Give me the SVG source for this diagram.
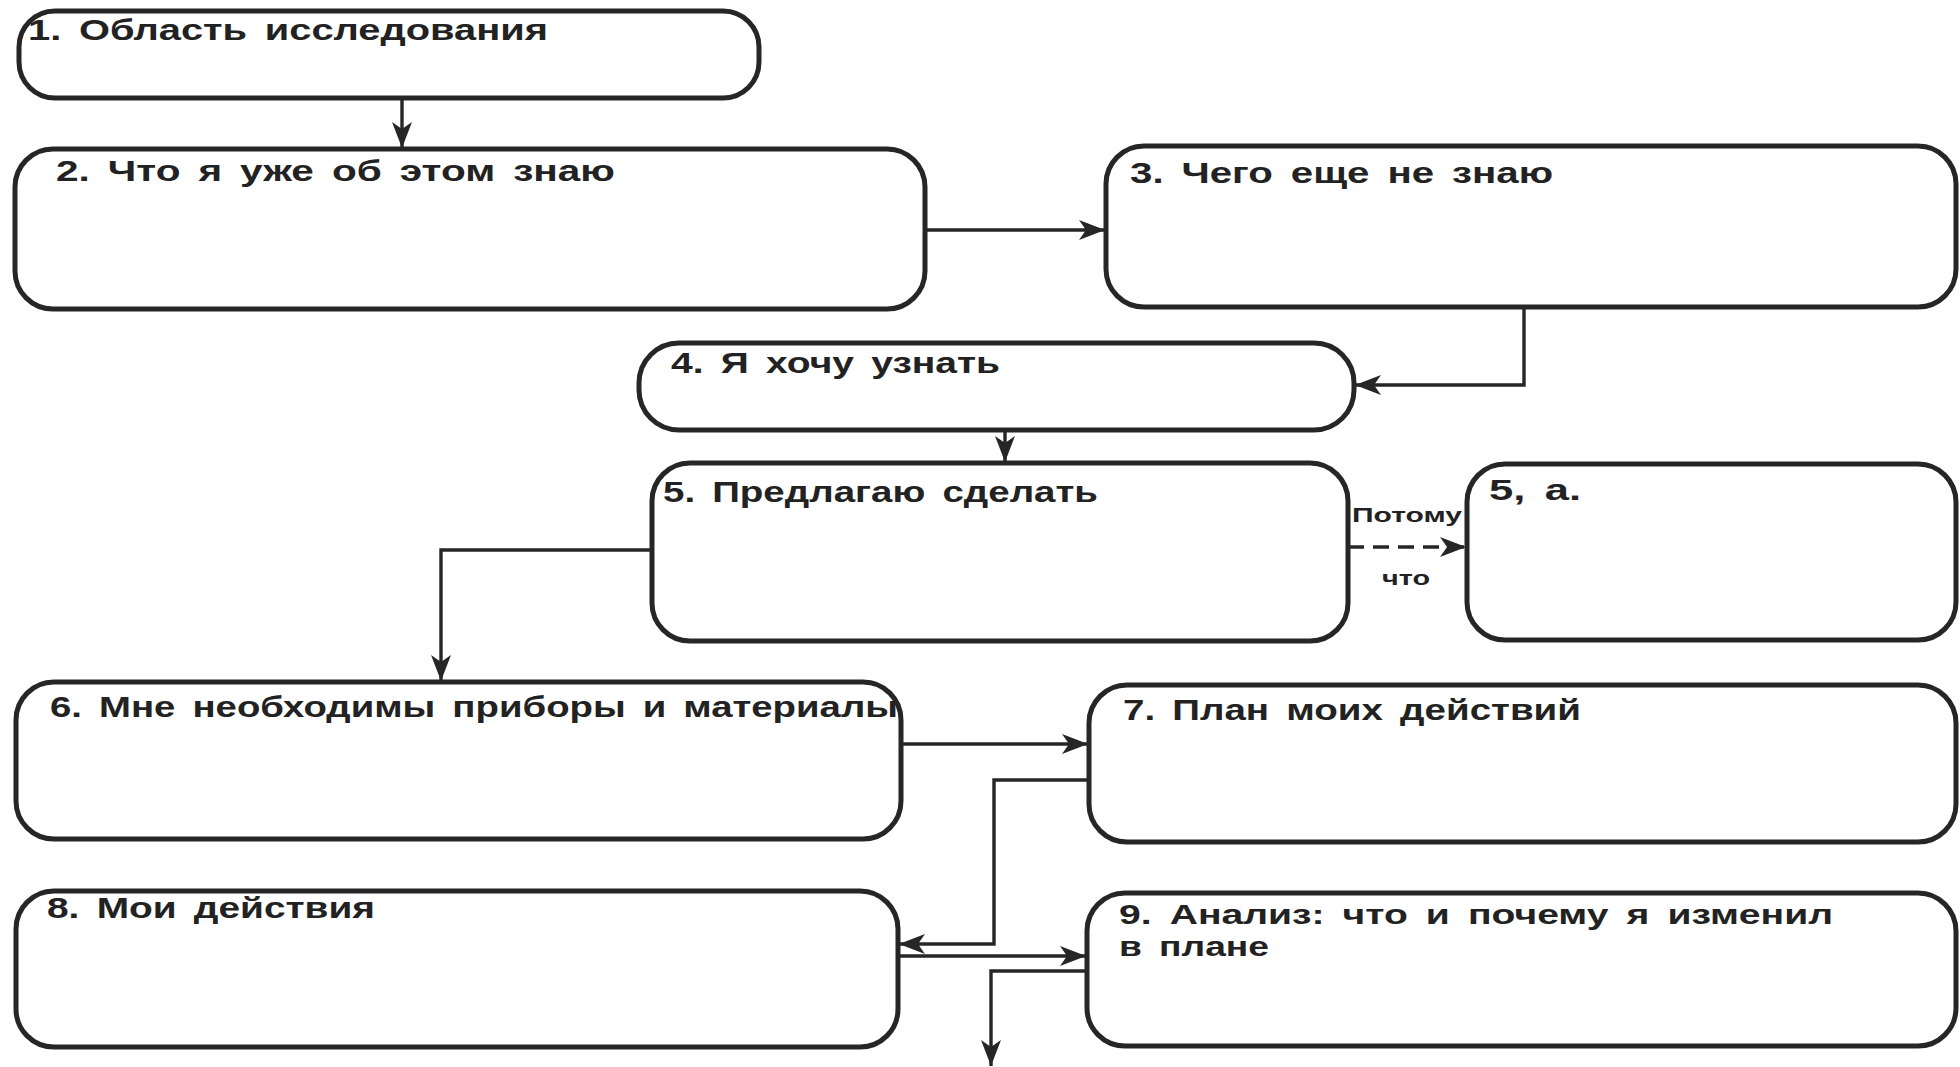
<svg xmlns="http://www.w3.org/2000/svg" width="1960" height="1067" viewBox="0 0 1960 1067">
<style>
.box{fill:#fff;stroke:#262626;stroke-width:5}
.t{font-family:"Liberation Sans",Arial,sans-serif;font-weight:bold;font-size:30px;fill:#222;word-spacing:5px}
.t9{font-size:27px}
.s{font-family:"Liberation Sans",Arial,sans-serif;font-weight:bold;font-size:21px;fill:#222}
.c{fill:none;stroke:#262626;stroke-width:3.4}
.d{stroke-dasharray:16,9}
</style>
<defs>
<marker id="arr" markerUnits="userSpaceOnUse" markerWidth="30" markerHeight="22" refX="26" refY="10" orient="auto">
<path d="M0,0 L26,10 L0,20 L7,10 z" fill="#262626"/>
</marker>
</defs>
<rect width="1960" height="1067" fill="#fff"/>
<g id="connectors">
<path class="c" d="M402,98 L402,148" marker-end="url(#arr)"/>
<path class="c" d="M925,230 L1105,230" marker-end="url(#arr)"/>
<path class="c" d="M1524,307 L1524,385 L1355,385" marker-end="url(#arr)"/>
<path class="c" d="M1005,430 L1005,462" marker-end="url(#arr)"/>
<path class="c d" d="M1348,547 L1466,547" marker-end="url(#arr)"/>
<path class="c" d="M652,550 L441,550 L441,681" marker-end="url(#arr)"/>
<path class="c" d="M901,744 L1088,744" marker-end="url(#arr)"/>
<path class="c" d="M1089,780 L994,780 L994,944 L899,944" marker-end="url(#arr)"/>
<path class="c" d="M898,956 L1086,956" marker-end="url(#arr)"/>
<path class="c" d="M1087,971 L991,971 L991,1066" marker-end="url(#arr)"/>
<text class="s" x="1352" y="522" textLength="110" lengthAdjust="spacingAndGlyphs">Потому</text>
<text class="s" x="1382" y="585" textLength="48" lengthAdjust="spacingAndGlyphs">что</text>
</g>
<g id="n1"><rect class="box" x="19" y="11" width="740" height="87" rx="36"/><text class="t" x="28" y="40" textLength="520" lengthAdjust="spacingAndGlyphs">1. Область исследования</text></g>
<g id="n2"><rect class="box" x="15" y="149" width="910" height="160" rx="38"/><text class="t" x="56" y="181" textLength="559" lengthAdjust="spacingAndGlyphs">2. Что я уже об этом знаю</text></g>
<g id="n3"><rect class="box" x="1106" y="146" width="850" height="161" rx="38"/><text class="t" x="1130" y="183" textLength="423" lengthAdjust="spacingAndGlyphs">3. Чего еще не знаю</text></g>
<g id="n4"><rect class="box" x="639" y="343" width="715" height="87" rx="40"/><text class="t" x="671" y="373" textLength="329" lengthAdjust="spacingAndGlyphs">4. Я хочу узнать</text></g>
<g id="n5"><rect class="box" x="652" y="463" width="696" height="178" rx="38"/><text class="t" x="663" y="502" textLength="435" lengthAdjust="spacingAndGlyphs">5. Предлагаю сделать</text></g>
<g id="n5a"><rect class="box" x="1467" y="464" width="489" height="176" rx="38"/><text class="t" x="1489" y="500" textLength="92" lengthAdjust="spacingAndGlyphs">5, а.</text></g>
<g id="n6"><rect class="box" x="16" y="682" width="885" height="157" rx="38"/><text class="t" x="50" y="717" textLength="848" lengthAdjust="spacingAndGlyphs">6. Мне необходимы приборы и материалы</text></g>
<g id="n7"><rect class="box" x="1089" y="685" width="867" height="157" rx="38"/><text class="t" x="1123" y="720" textLength="458" lengthAdjust="spacingAndGlyphs">7. План моих действий</text></g>
<g id="n8"><rect class="box" x="16" y="891" width="882" height="156" rx="38"/><text class="t" x="47" y="918" textLength="328" lengthAdjust="spacingAndGlyphs">8. Мои действия</text></g>
<g id="n9"><rect class="box" x="1087" y="893" width="869" height="153" rx="38"/><text class="t t9" x="1119" y="924" textLength="714" lengthAdjust="spacingAndGlyphs">9. Анализ: что и почему я изменил</text><text class="t t9" x="1119" y="956" textLength="150" lengthAdjust="spacingAndGlyphs">в плане</text></g>
</svg>
